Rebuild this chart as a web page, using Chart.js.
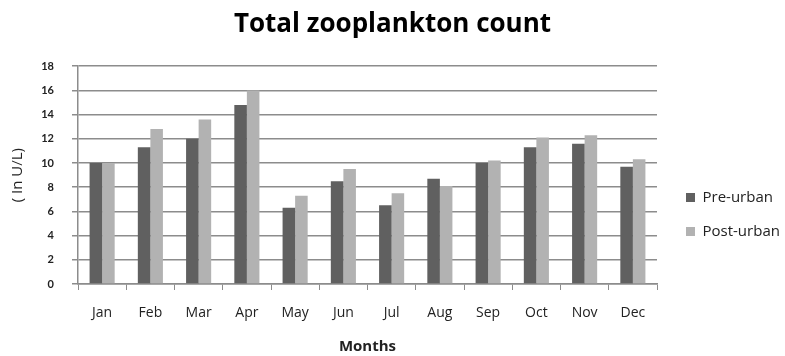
<!DOCTYPE html>
<html>
<head>
<meta charset="utf-8">
<script src="https://cdn.jsdelivr.net/npm/chart.js@4"></script>
<style>
  html, body { margin: 0; padding: 0; background: #fff; }
  #wrap { width: 785px; height: 356px; }
</style>
</head>
<body>
<div id="wrap"><canvas id="chart" width="785" height="356"></canvas></div>
<script>
// data
var months = ['Jan', 'Feb', 'Mar', 'Apr', 'May', 'Jun', 'Jul', 'Aug', 'Sep', 'Oct', 'Nov', 'Dec'];
var preUrban = [10, 11.3, 12, 14.8, 6.3, 8.5, 6.5, 8.7, 10, 11.3, 11.6, 9.7];
var postUrban = [10, 12.8, 13.6, 16, 7.3, 9.5, 7.5, 8.1, 10.2, 12.1, 12.3, 10.3];

var font = '"Open Sans", Lato, sans-serif';
Chart.defaults.font.family = font;
Chart.defaults.color = '#222';

new Chart(document.getElementById('chart'), {
  type: 'bar',
  data: {
    labels: months,
    datasets: [{
      label: 'Pre-urban',
      data: preUrban,
      backgroundColor: '#606060',
      categoryPercentage: 0.52,
      barPercentage: 1
    }, {
      label: 'Post-urban',
      data: postUrban,
      backgroundColor: '#b2b2b2',
      categoryPercentage: 0.52,
      barPercentage: 1
    }]
  },
  options: {
    responsive: false,
    animation: false,
    layout: { padding: { left: 0, right: 0, top: 5, bottom: 0 } },
    plugins: {
      title: {
        display: true,
        text: 'Total zooplankton count',
        font: { size: 26, weight: 'bold' },
        color: '#000',
        padding: { top: 4, bottom: 26 }
      },
      legend: {
        position: 'right',
        labels: {
          boxWidth: 9,
          boxHeight: 9,
          padding: 19,
          font: { size: 15 },
          color: '#222'
        }
      },
      tooltip: { enabled: false }
    },
    scales: {
      x: {
        afterFit: function (axis) { axis.height = 72; },
        grid: {
          drawOnChartArea: false,
          color: '#8c8c8c',
          tickLength: 6
        },
        border: { color: '#8c8c8c', width: 1.5 },
        ticks: { font: { size: 14 }, padding: 15, color: '#222' },
        title: {
          display: true,
          text: 'Months',
          font: { size: 15, weight: 'bold' },
          color: '#222',
          padding: { top: 10, bottom: 0 }
        }
      },
      y: {
        afterFit: function (axis) { axis.width = 78; },
        min: 0,
        max: 18,
        ticks: { stepSize: 2, font: { family: 'Lato, sans-serif', size: 11, weight: 'bold' }, padding: 18, color: '#222' },
        grid: { color: '#8c8c8c', lineWidth: 1.5, tickLength: 6 },
        border: { color: '#8c8c8c', width: 1.5 },
        title: {
          display: true,
          text: '( In U/L)',
          font: { size: 15 },
          color: '#222',
          padding: { top: 9, bottom: 4 }
        }
      }
    }
  },
  plugins: [{
    // legend sits further right and lower than Chart.js puts it
    id: 'legendPlace',
    beforeInit: function (chart) {
      var fit = chart.legend.fit;
      chart.legend.fit = function () {
        fit.call(this);
        this.width = 128;
      };
    },
    afterLayout: function (chart) {
      var lg = chart.legend;
      lg.left += 10; lg.right += 10;
      lg.top += 34; lg.bottom += 34;
    }
  }]
});
</script>
</body>
</html>
